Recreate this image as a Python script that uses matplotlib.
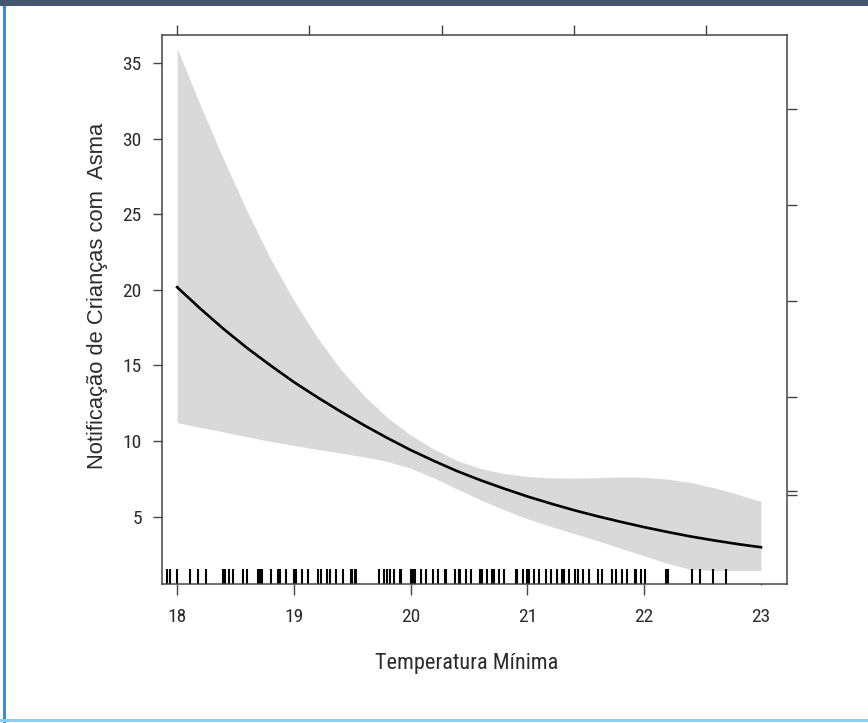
import numpy as np
import matplotlib.pyplot as plt
from matplotlib.patches import Rectangle
from matplotlib import font_manager
import matplotlib.transforms as mtransforms

# effect curve of minimum temperature
temp = [18.0, 18.2, 18.4, 18.6, 18.8, 19.0, 19.2, 19.4, 19.6, 19.8, 20.0, 20.2, 20.4,
        20.6, 20.8, 21.0, 21.2, 21.4, 21.6, 21.8, 22.0, 22.2, 22.4, 22.6, 22.8, 23.0]
fit = [20.18, 18.75, 17.4, 16.15, 15.0, 13.9, 12.9, 11.95, 11.05, 10.2, 9.4, 8.68, 8.0,
       7.4, 6.85, 6.33, 5.86, 5.42, 5.02, 4.65, 4.3, 3.98, 3.68, 3.42, 3.18, 2.97]
upper = [35.99, 32.2, 28.6, 25.2, 22.05, 19.3, 16.85, 14.75, 13.0, 11.55, 10.4, 9.45, 8.7,
         8.18, 7.85, 7.65, 7.56, 7.55, 7.58, 7.62, 7.6, 7.48, 7.25, 6.9, 6.48, 6.0]
lower = [11.22, 10.9, 10.6, 10.28, 9.98, 9.7, 9.45, 9.2, 8.95, 8.65, 8.2, 7.55, 6.82,
         6.1, 5.45, 4.85, 4.35, 3.88, 3.4, 2.9, 2.4, 1.9, 1.5, 1.43, 1.43, 1.43]

# observed temperatures (rug)
rug = [17.91, 17.94, 18.0, 18.11, 18.18, 18.25, 18.39, 18.41, 18.44, 18.48, 18.56, 18.6,
       18.69, 18.71, 18.73, 18.8, 18.86, 18.88, 18.93, 19.0, 19.02, 19.07, 19.12, 19.21,
       19.23, 19.28, 19.31, 19.36, 19.42, 19.49, 19.5, 19.52, 19.53, 19.73, 19.77, 19.8,
       19.82, 19.86, 19.91, 19.92, 20.0, 20.02, 20.04, 20.09, 20.13, 20.19, 20.23, 20.29,
       20.3, 20.38, 20.41, 20.42, 20.47, 20.52, 20.59, 20.61, 20.65, 20.7, 20.71, 20.76,
       20.8, 20.9, 20.91, 20.96, 21.0, 21.01, 21.06, 21.1, 21.16, 21.2, 21.25, 21.3, 21.31,
       21.36, 21.41, 21.43, 21.48, 21.53, 21.6, 21.64, 21.72, 21.76, 21.81, 21.85, 21.92,
       21.93, 21.97, 22.01, 22.19, 22.2, 22.41, 22.48, 22.59, 22.7]

xticks = [18, 19, 20, 21, 22, 23]
yticks = [5, 10, 15, 20, 25, 30, 35]
top_ticks = [18.0, 19.133, 20.266, 21.398, 22.531]
right_ticks = [6.4, 6.7, 12.93, 19.29, 25.64, 32.0]

# a condensed face if one is around, else plain Arial metrics
have = {f.name for f in font_manager.fontManager.ttflist}
cond = [n for n in ['Liberation Sans Narrow', 'Arial Narrow', 'Roboto Condensed',
                    'Open Sans Condensed'] if n in have]
narrow = cond[:1] + ['Liberation Sans', 'DejaVu Sans']
regular = ['Liberation Sans', 'DejaVu Sans']
txt = '#2b2b2b'
axcol = '#444444'

fig = plt.figure(figsize=(8.68, 7.23), dpi=100)
ax = fig.add_axes([0.1866, 0.1923, 0.7197, 0.7593])

ax.fill_between(temp, lower, upper, color='#d9d9d9', lw=0)
ax.plot(temp, fit, color='black', lw=1.9, solid_joinstyle='round')

trans = mtransforms.blended_transform_factory(ax.transData, ax.transAxes)
ax.vlines(rug, 0, 0.027, color='black', lw=1.5, transform=trans)

ax.set_xlim(17.87, 23.22)
ax.set_ylim(0.54, 36.87)

for s in ax.spines.values():
    s.set_color(axcol)
    s.set_linewidth(1.1)

ax.set_xticks(xticks)
ax.set_yticks(yticks)
ax.tick_params(axis='x', length=8, width=1.0, color=axcol, pad=9, labelsize=14,
               labelcolor=txt)
ax.tick_params(axis='y', length=6.5, width=1.0, color=axcol, pad=8, labelsize=14,
               labelcolor=txt)
for lab in ax.get_xticklabels() + ax.get_yticklabels():
    lab.set_family(narrow)
ax.xaxis.get_major_ticks()[-1].tick1line.set_markersize(1)

top = ax.secondary_xaxis('top')
top.set_xticks(top_ticks)
top.set_xticklabels([])
top.tick_params(length=7, width=1.0, color=axcol)
top.spines['top'].set_visible(False)

right = ax.secondary_yaxis('right')
right.set_yticks(right_ticks)
right.set_yticklabels([])
right.tick_params(length=7, width=1.0, color=axcol)
right.spines['right'].set_visible(False)

ax.set_xlabel('Temperatura Mínima', fontsize=16, family=narrow, color=txt)
ax.xaxis.set_label_coords(0.487, -0.125)
ax.set_ylabel('Notificação de Crianças com  Asma', fontsize=15.8, family=regular,
              color=txt)
ax.yaxis.set_label_coords(-0.087, 0.525)

# page frame around the figure
fig.add_artist(Rectangle((0, 1 - 6 / 723), 1, 6 / 723, transform=fig.transFigure,
                         color='#44596f', lw=0))
fig.add_artist(Rectangle((3 / 868, 0), 3 / 868, 1 - 6 / 723, transform=fig.transFigure,
                         color='#3a8fd0', lw=0))
fig.add_artist(Rectangle((0, 1 / 723), 1, 3 / 723, transform=fig.transFigure,
                         color='#8fcdee', lw=0))

fig.savefig('out.png', dpi=100)
